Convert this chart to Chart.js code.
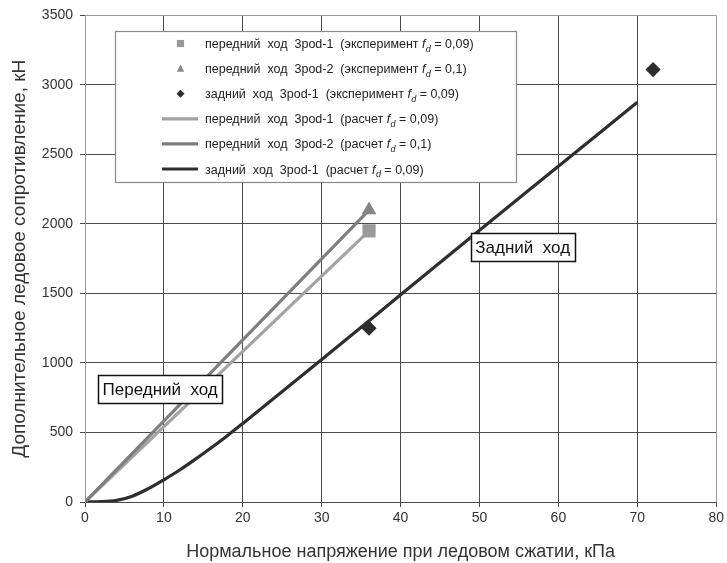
<!DOCTYPE html>
<html>
<head>
<meta charset="utf-8">
<script src="https://cdn.jsdelivr.net/npm/chart.js@4/dist/chart.umd.min.js"></script>
<style>
  html, body { margin: 0; padding: 0; background: #fff; }
  #wrap { width: 727px; height: 563px; position: relative; }
</style>
</head>
<body>
<div id="wrap"><canvas id="c" width="727" height="563"></canvas></div>
<script>
// Measured points (experiment)
const front1ExpX = [36];
const front1ExpY = [1950];
const front2ExpX = [36];
const front2ExpY = [2100];
const rearExpX = [36, 72];
const rearExpY = [1250, 3110];

// Calculated curves
const front1CalcX = [0, 36];
const front1CalcY = [0, 1950];
const front2CalcX = [0, 36];
const front2CalcY = [0, 2100];
const rearCalcX = [0, 2, 4, 6, 8, 10, 12, 14, 16, 18, 20, 30, 40, 50, 60, 70];
const rearCalcY = [0, 2, 12, 42, 95, 160, 230, 308, 390, 475, 565, 1025, 1490, 1955, 2415, 2875];

// Axis ticks
const xTicks = [0, 10, 20, 30, 40, 50, 60, 70, 80];
const yTicks = [0, 500, 1000, 1500, 2000, 2500, 3000, 3500];

// Legend entries
const legendEntries = [
  { kind: 'square',   pre: 'передний  ход  3pod-1  (эксперимент ', post: ' = 0,09)' },
  { kind: 'triangle', pre: 'передний  ход  3pod-2  (эксперимент ', post: ' = 0,1)' },
  { kind: 'diamond',  pre: 'задний  ход  3pod-1  (эксперимент ',   post: ' = 0,09)' },
  { kind: 'line1',    pre: 'передний  ход  3pod-1  (расчет ',      post: ' = 0,09)' },
  { kind: 'line2',    pre: 'передний  ход  3pod-2  (расчет ',      post: ' = 0,1)' },
  { kind: 'line3',    pre: 'задний  ход  3pod-1  (расчет ',        post: ' = 0,09)' }
];

// Text boxes placed on the plot
const notes = [
  { text: 'Передний  ход', x: 1.65, y: 912 },
  { text: 'Задний  ход',   x: 48.9, y: 1935 }
];

const FONT = '"Liberation Sans", Arial, sans-serif';
const C_LIGHT = '#a3a3a3';
const C_MID = '#7e7e7e';
const C_DARK = '#2e2e2e';
const C_GRID = '#4a4a4a';
const C_FRAME = '#9a9a9a';

const zip = (xs, ys) => xs.map((x, i) => ({ x, y: ys[i] }));

function markerPath(ctx, kind, x, y, s) {
  ctx.beginPath();
  if (kind === 'square') {
    ctx.rect(x - s, y - s, 2 * s, 2 * s);
  } else if (kind === 'triangle') {
    ctx.moveTo(x, y - s * 1.15);
    ctx.lineTo(x + s * 1.05, y + s * 0.85);
    ctx.lineTo(x - s * 1.05, y + s * 0.85);
    ctx.closePath();
  } else {
    ctx.moveTo(x, y - s);
    ctx.lineTo(x + s, y);
    ctx.lineTo(x, y + s);
    ctx.lineTo(x - s, y);
    ctx.closePath();
  }
}

function drawFd(ctx, x, y, pre, post, size) {
  ctx.textBaseline = 'alphabetic';
  ctx.textAlign = 'left';
  ctx.font = size + 'px ' + FONT;
  ctx.fillText(pre, x, y);
  x += ctx.measureText(pre).width;
  ctx.font = 'italic ' + size + 'px ' + FONT;
  ctx.fillText('f', x, y);
  x += ctx.measureText('f').width + 0.3;
  const sub = Math.round(size * 0.68);
  ctx.font = 'italic ' + sub + 'px ' + FONT;
  ctx.fillText('d', x, y + size * 0.3);
  x += ctx.measureText('d').width;
  ctx.font = size + 'px ' + FONT;
  ctx.fillText(post, x, y);
}

const extras = {
  id: 'extras',
  afterDatasetsDraw(chart) {
    const ctx = chart.ctx;
    const xs = chart.scales.x, ys = chart.scales.y;
    ctx.save();

    // note boxes
    ctx.font = '17px ' + FONT;
    notes.forEach(n => {
      const px = xs.getPixelForValue(n.x);
      const py = ys.getPixelForValue(n.y);
      const w = ctx.measureText(n.text).width + 9;
      const h = 28;
      ctx.fillStyle = '#fff';
      ctx.fillRect(px, py, w, h);
      ctx.strokeStyle = '#111';
      ctx.lineWidth = 1.5;
      ctx.strokeRect(Math.round(px) + 0.5, Math.round(py) + 0.5, Math.round(w), h);
      ctx.fillStyle = '#111';
      ctx.textAlign = 'left';
      ctx.textBaseline = 'middle';
      ctx.fillText(n.text, px + 4.5, py + h / 2 + 1);
    });

    // legend
    const lx = 115.5, ly = 31.5, lw = 401, lh = 151;
    ctx.fillStyle = '#fff';
    ctx.fillRect(lx, ly, lw, lh);
    ctx.strokeStyle = '#8a8a8a';
    ctx.lineWidth = 1.2;
    ctx.strokeRect(lx, ly, lw, lh);
    legendEntries.forEach((e, i) => {
      const cy = 43.5 + i * 25.1;
      const mx = 180.5;
      if (e.kind === 'square' || e.kind === 'triangle' || e.kind === 'diamond') {
        ctx.fillStyle = e.kind === 'square' ? '#9a9a9a' : (e.kind === 'triangle' ? '#888' : C_DARK);
        markerPath(ctx, e.kind, mx, cy, e.kind === 'diamond' ? 4 : 3.6);
        ctx.fill();
      } else {
        ctx.strokeStyle = e.kind === 'line1' ? C_LIGHT : (e.kind === 'line2' ? C_MID : C_DARK);
        ctx.lineWidth = 3.2;
        ctx.beginPath();
        ctx.moveTo(162, cy);
        ctx.lineTo(198, cy);
        ctx.stroke();
      }
      ctx.fillStyle = '#222';
      drawFd(ctx, 205, cy + 4.5, e.pre, e.post, 12.5);
    });
    ctx.restore();
  }
};

new Chart(document.getElementById('c'), {
  type: 'scatter',
  data: {
    datasets: [
      { label: 'front1Exp', data: zip(front1ExpX, front1ExpY), pointStyle: 'rect', pointRadius: 9.3,
        backgroundColor: '#9a9a9a', borderColor: '#9a9a9a', borderWidth: 0, showLine: false, order: 1 },
      { label: 'front2Exp', data: zip(front2ExpX, front2ExpY), pointStyle: 'triangle', pointRadius: 8.5,
        backgroundColor: '#868686', borderColor: '#868686', borderWidth: 0, showLine: false, order: 1 },
      { label: 'rearExp', data: zip(rearExpX, rearExpY), pointStyle: 'rectRot', pointRadius: 7.6,
        backgroundColor: C_DARK, borderColor: C_DARK, borderWidth: 0, showLine: false, order: 1 },
      { label: 'front1Calc', data: zip(front1CalcX, front1CalcY), showLine: true, pointRadius: 0,
        borderColor: C_LIGHT, borderWidth: 3.2, order: 3 },
      { label: 'front2Calc', data: zip(front2CalcX, front2CalcY), showLine: true, pointRadius: 0,
        borderColor: C_MID, borderWidth: 3.2, order: 2 },
      { label: 'rearCalc', data: zip(rearCalcX, rearCalcY), showLine: true, pointRadius: 0,
        borderColor: C_DARK, borderWidth: 3.2, cubicInterpolationMode: 'monotone', order: 2 }
    ]
  },
  options: {
    responsive: false,
    animation: false,
    devicePixelRatio: 1,
    layout: { padding: { top: 15, right: 9, left: 0, bottom: 0 } },
    plugins: { legend: { display: false }, tooltip: { enabled: false } },
    scales: {
      x: {
        type: 'linear', min: 0, max: 80,
        afterBuildTicks: s => { s.ticks = xTicks.map(v => ({ value: v })); },
        afterFit: s => { s.height = 61; },
        ticks: { color: '#333', font: { family: FONT, size: 14 }, padding: 3, callback: v => String(v) },
        grid: {
          color: c => (c.tick && (c.tick.value === 0 || c.tick.value === 80)) ? C_FRAME : C_GRID,
          tickColor: C_GRID, tickLength: 5, lineWidth: 1
        },
        border: { color: C_GRID, width: 1 },
        title: { display: true, text: 'Нормальное напряжение при ледовом сжатии, кПа',
          color: '#333', font: { family: FONT, size: 18 }, padding: { top: 0, bottom: 0 } }
      },
      y: {
        type: 'linear', min: 0, max: 3500,
        afterBuildTicks: s => { s.ticks = yTicks.map(v => ({ value: v })); },
        afterFit: s => { s.width = 85; },
        ticks: { color: '#333', font: { family: FONT, size: 14 }, padding: 7, callback: v => String(v) },
        grid: {
          color: c => (c.tick && c.tick.value === 3500) ? C_FRAME : C_GRID,
          tickColor: C_GRID, tickLength: 5, lineWidth: 1
        },
        border: { color: C_FRAME, width: 1 },
        title: { display: true, text: 'Дополнительное ледовое сопротивление, кН',
          color: '#333', font: { family: FONT, size: 19 }, padding: { top: 8.6, bottom: 0 } }
      }
    }
  },
  plugins: [extras]
});
</script>
</body>
</html>
